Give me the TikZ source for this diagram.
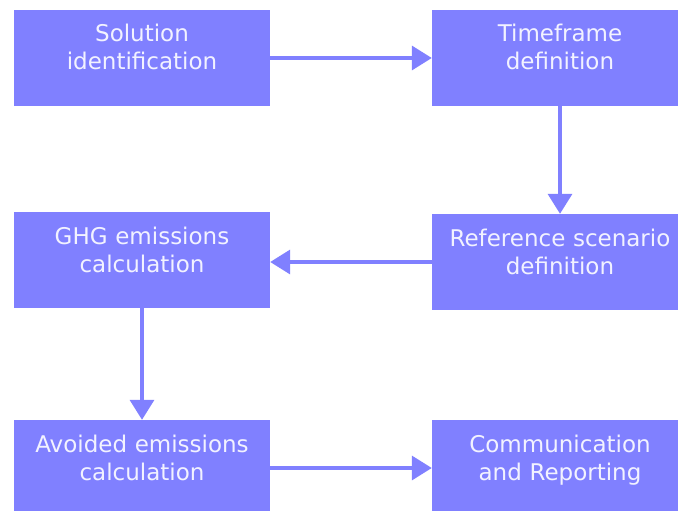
\documentclass[tikz,border=0pt]{standalone}
\usepackage{fontspec}
\setmainfont{DejaVu Sans}
\usetikzlibrary{arrows.meta}
\definecolor{boxfill}{HTML}{8080FF}
\definecolor{boxtext}{HTML}{F2F2FF}
\tikzset{
  stage/.style={fill=boxfill, text=boxtext, align=center, text width=256pt,
    minimum width=256pt, minimum height=96pt, inner sep=0pt,
    text height=32pt, text depth=64pt,
    font=\fontsize{23}{28}\selectfont},
  flow/.style={draw=boxfill, line width=3.5pt, -{Triangle[width=24pt,length=20pt]}}
}
\begin{document}
\begin{tikzpicture}[x=1pt, y=-1pt]
      \clip (0,0) rectangle (678,511);
      \fill[white] (0,0) rectangle (678,511);

      % Boxes
      \node[stage] (sol) at (142,58) {Solution\\identification};
      \node[stage] (time) at (560,58) {Timeframe\\definition};
      \node[stage] (ghg) at (142,260) {GHG emissions\\calculation};
      \node[stage] (ref) at (560,262) {Reference scenario\\definition};
      \node[stage] (avoid) at (142,468) {Avoided emissions\\calculation};
      \node[stage] (comm) at (560,468) {Communication\\and Reporting};

      % Arrows
      \draw[flow] (sol.east) -- (time.west);
      \draw[flow] (time.south) -- (ref.north);
      \draw[flow] (ref.west) -- (ref.west -| ghg.east);
      \draw[flow] (ghg.south) -- (avoid.north);
      \draw[flow] (avoid.east) -- (comm.west);
\end{tikzpicture}
\end{document}
